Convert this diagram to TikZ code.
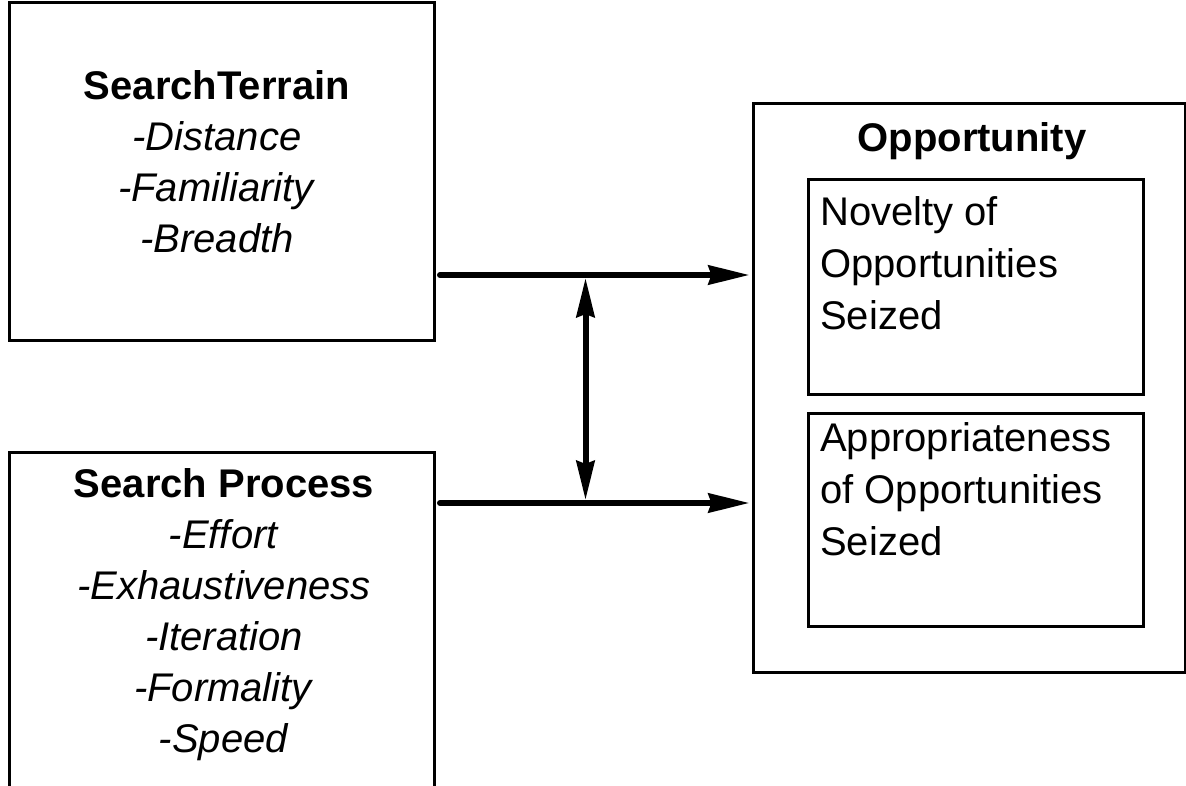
\documentclass[tikz,border=0pt]{standalone}
\usepackage{fontspec}
\setmainfont{Liberation Sans}
\usetikzlibrary{arrows.meta, positioning, calc}
\tikzset{
	frame/.style  ={rectangle, draw=black, line width=3pt, inner sep=0pt},
	listtxt/.style={align=center, inner sep=0pt, font=\fontsize{40}{51}\selectfont},
	boxtxt/.style ={align=left, inner sep=0pt, anchor=north west, font=\fontsize{40}{52}\selectfont},
	% connector styles
	link/.style   ={-{Stealth[length=41pt, width=19pt, inset=3pt]}, line width=6pt, line cap=round},
	mutual/.style ={{Stealth[length=39pt, width=18pt, inset=3pt]}-{Stealth[length=39pt, width=18pt, inset=3pt]}, line width=6pt},
}
\begin{document}
\begin{tikzpicture}[x=1pt, y=-1pt]
	\useasboundingbox (0,0) rectangle (1186,786);
	\node[frame, minimum width=425pt, minimum height=337pt] (terrain) at (221.5,171.5) {};
	\node[listtxt] (terraintxt) at (217,161.5) {\textbf{SearchTerrain}\\ \textit{-Distance}\\ \textit{-Familiarity}\\ \textit{-Breadth}};
	\node[frame, minimum width=425pt, minimum height=370pt] (process) at (221.5,637) {};
	\node[listtxt] (processtxt) at (224,615) {\textbf{Search Process}\\ \textit{-Effort}\\ \textit{-Exhaustiveness}\\ \textit{-Iteration}\\ \textit{-Formality}\\ \textit{-Speed}};
	\node[frame, minimum width=432pt, minimum height=568pt] (opp) at (969,388) {};
	\node[listtxt, anchor=base] (opptitle) at (972,152) {\textbf{Opportunity}};
	\node[frame, minimum width=335pt, minimum height=214pt] (novelty) at (975.5,287) {};
	\node[boxtxt] (noveltytxt) at (820,196) {Novelty of\\ Opportunities\\ Seized};
	\node[frame, minimum width=335pt, minimum height=213pt] (approp) at (975.5,519.5) {};
	\node[boxtxt] (approptxt) at (820,422.5) {Appropriateness\\ of Opportunities\\ Seized};
	% connectors
	\coordinate (terrainout) at (440,275);
	\coordinate (processout) at (440,503);
	\coordinate (upper) at (585.5,275);
	\coordinate (lower) at (585.5,503);
	\draw[link] (terrainout) -- ($(opp.west |- terrainout)+(-2,0)$);
	\draw[link] (processout) -- ($(opp.west |- processout)+(-2,0)$);
	\draw[mutual, shorten <=3pt, shorten >=3pt] (upper) -- (lower);
\end{tikzpicture}
\end{document}
